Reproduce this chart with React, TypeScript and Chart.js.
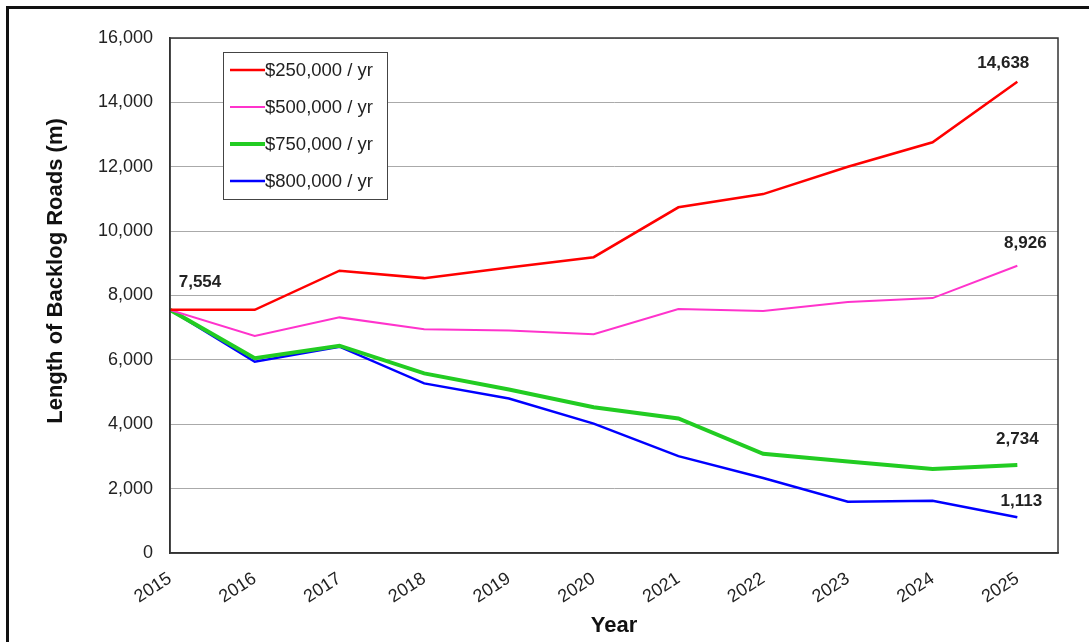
import React, { useEffect, useRef } from "react";
import { Chart, registerables } from "chart.js";

Chart.register(...registerables);

const years = [2015, 2016, 2017, 2018, 2019, 2020, 2021, 2022, 2023, 2024, 2025];
const seriesLabels = ["$250,000 / yr", "$500,000 / yr", "$750,000 / yr", "$800,000 / yr"];
const seriesColors = ["#ff0000", "#ff33cc", "#22cc22", "#0000ff"];
const seriesWidths = [2.5, 2, 4, 2.5];
const budget250 = [7554, 7554, 8770, 8540, 8870, 9190, 10740, 11150, 12000, 12760, 14638];
const budget500 = [7554, 6740, 7320, 6950, 6910, 6800, 7580, 7520, 7800, 7920, 8926];
const budget750 = [7554, 6050, 6440, 5580, 5080, 4530, 4180, 3080, 2840, 2610, 2734];
const budget800 = [7554, 5940, 6410, 5270, 4800, 4020, 3010, 2330, 1590, 1620, 1113];
const yTicks = [0, 2000, 4000, 6000, 8000, 10000, 12000, 14000, 16000];
const yTitle = "Length of Backlog Roads (m)";
const xTitle = "Year";
const endLabels = [
  { series: 0, index: 0, text: "7,554", dx: 30, dy: -28 },
  { series: 0, index: 10, text: "14,638", dx: -14, dy: -19 },
  { series: 1, index: 10, text: "8,926", dx: 8, dy: -22 },
  { series: 2, index: 10, text: "2,734", dx: 0, dy: -26 },
  { series: 3, index: 10, text: "1,113", dx: 4, dy: -16 },
];

const allSeries = [budget250, budget500, budget750, budget800];
const FONT = "'Liberation Sans', Arial, sans-serif";

const framePlugin = {
  id: "frame",
  beforeDraw(chart: any) {
    const ctx = chart.ctx;
    ctx.save();
    ctx.fillStyle = "#ffffff";
    ctx.fillRect(0, 0, chart.width, chart.height);
    ctx.strokeStyle = "#111111";
    ctx.lineWidth = 3;
    ctx.beginPath();
    ctx.moveTo(7.5, chart.height + 5);
    ctx.lineTo(7.5, 7.5);
    ctx.lineTo(chart.width + 5, 7.5);
    ctx.stroke();

    // y axis title
    ctx.translate(56, 271);
    ctx.rotate(-Math.PI / 2);
    ctx.font = "bold 22px " + FONT;
    ctx.fillStyle = "#111111";
    ctx.textAlign = "center";
    ctx.textBaseline = "middle";
    ctx.fillText(yTitle, 0, 0);
    ctx.restore();
  },
  afterDatasetsDraw(chart: any) {
    const ctx = chart.ctx;
    const a = chart.chartArea;
    ctx.save();
    ctx.strokeStyle = "#333333";
    ctx.lineWidth = 1.5;
    ctx.strokeRect(a.left, a.top, a.right - a.left, a.bottom - a.top);

    // legend box
    const lx = 223, ly = 52, lw = 164, lh = 147;
    ctx.fillStyle = "#ffffff";
    ctx.fillRect(lx, ly, lw, lh);
    ctx.strokeStyle = "#444444";
    ctx.lineWidth = 1;
    ctx.strokeRect(lx + 0.5, ly + 0.5, lw, lh);
    ctx.font = "18.5px " + FONT;
    ctx.textBaseline = "middle";
    ctx.textAlign = "left";
    chart.data.datasets.forEach((ds: any, i: number) => {
      const y = 70 + i * 37;
      ctx.strokeStyle = ds.borderColor;
      ctx.lineWidth = ds.borderWidth;
      ctx.beginPath();
      ctx.moveTo(230, y);
      ctx.lineTo(265, y);
      ctx.stroke();
      ctx.fillStyle = "#222222";
      ctx.fillText(ds.label, 265, y + 1);
    });

    // value labels
    ctx.font = "bold 17px " + FONT;
    ctx.fillStyle = "#222222";
    ctx.textAlign = "center";
    endLabels.forEach((l) => {
      const meta = chart.getDatasetMeta(l.series);
      const pt = meta.data[l.index];
      if (pt) ctx.fillText(l.text, pt.x + l.dx, pt.y + l.dy);
    });
    ctx.restore();
  },
};

export default function App() {
  const ref = useRef<HTMLCanvasElement>(null);
  useEffect(() => {
    if (!ref.current) return;
    const chart = new Chart(ref.current, {
      type: "line",
      data: {
        datasets: allSeries.map((s, i) => ({
          label: seriesLabels[i],
          data: years.map((yr, j) => ({ x: yr, y: s[j] })),
          borderColor: seriesColors[i],
          backgroundColor: seriesColors[i],
          borderWidth: seriesWidths[i],
          pointRadius: 0,
          tension: 0,
          fill: false,
        })),
      },
      options: {
        responsive: false,
        animation: false,
        layout: { padding: { top: 38, right: 31, left: 0, bottom: 0 } },
        plugins: { legend: { display: false }, tooltip: { enabled: false } },
        scales: {
          x: {
            type: "linear",
            min: 2015,
            max: 2025.48,
            afterBuildTicks: (scale: any) => {
              scale.ticks = years.map((v) => ({ value: v }));
            },
            afterFit: (scale: any) => {
              scale.height = 89;
            },
            ticks: {
              minRotation: 33,
              maxRotation: 33,
              autoSkip: false,
              padding: 15,
              color: "#222222",
              font: { family: FONT, size: 18 },
              callback: (v: any) => String(v),
            },
            grid: { display: false, drawTicks: false },
            border: { display: true, color: "#333333", width: 1.5 },
            title: {
              display: true,
              text: xTitle,
              color: "#111111",
              font: { family: FONT, size: 22, weight: "bold" },
              padding: { top: 0, bottom: 3 },
            },
          },
          y: {
            min: 0,
            max: 16000,
            afterBuildTicks: (scale: any) => {
              scale.ticks = yTicks.map((v) => ({ value: v }));
            },
            afterFit: (scale: any) => {
              scale.width = 170;
            },
            ticks: {
              padding: 17,
              color: "#222222",
              font: { family: FONT, size: 18 },
              callback: (v: any) => Number(v).toLocaleString("en-US"),
            },
            grid: { color: "#aaaaaa", lineWidth: 1, drawTicks: false },
            border: { display: true, color: "#333333", width: 1.5 },
            title: { display: false },
          },
        },
      },
      plugins: [framePlugin],
    } as any);
    return () => chart.destroy();
  }, []);
  return (
    <div style={{ position: "fixed", left: 0, top: 0, width: 1089, height: 642 }}>
      <canvas ref={ref} width={1089} height={642} style={{ width: 1089, height: 642, display: "block" }} />
    </div>
  );
}
